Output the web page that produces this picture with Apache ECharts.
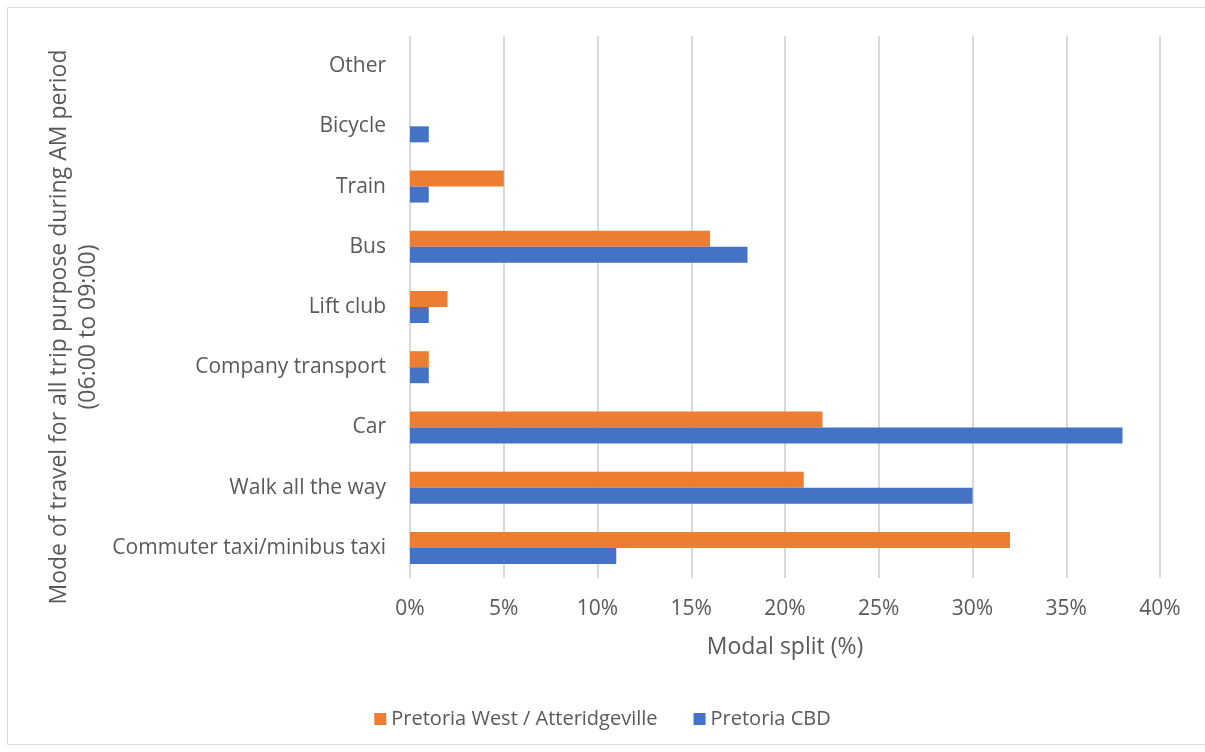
<!DOCTYPE html>
<html><head><meta charset="utf-8">
<script src="https://cdn.jsdelivr.net/npm/echarts@6/dist/echarts.min.js"></script>
<style>html,body{margin:0;padding:0;background:#fff}#c{width:1205px;height:752px}</style>
</head><body><div id="c"></div>
<script>
const categories = ['Commuter taxi/minibus taxi','Walk all the way','Car','Company transport','Lift club','Bus','Train','Bicycle','Other'];
const westValues = [32, 21, 22, 1, 2, 16, 5, 0, 0];
const cbdValues = [11, 30, 38, 1, 1, 18, 1, 1, 0];
const seriesNames = ['Pretoria West / Atteridgeville', 'Pretoria CBD'];
const xTicks = [0, 5, 10, 15, 20, 25, 30, 35, 40];
const yTitle = 'Mode of travel for all trip purpose during AM period\n(06:00 to 09:00)';
const xTitle = 'Modal split (%)';

const font = '"Open Sans", sans-serif';
const txt = '#595959';
const chart = echarts.init(document.getElementById('c'));
chart.setOption({
  animation: false,
  backgroundColor: '#fff',
  graphic: [
    {type:'rect', shape:{x:7.5,y:7.5,width:1205,height:737}, style:{fill:'none', stroke:'#d9d9d9', lineWidth:1}},
    {type:'text', x: 74, y: 327, rotation: Math.PI/2,
     style:{text: yTitle, fill: txt, font: '23px "Open Sans", sans-serif', align:'center', verticalAlign:'middle', lineHeight: 29}}
  ],
  grid: {left: 410, right: 45, top: 36, bottom: 174, containLabel: false},
  legend: {
    bottom: 18, left: 'center', itemWidth: 12, itemHeight: 12, itemGap: 36,
    icon: 'rect',
    textStyle: {color: txt, fontSize: 20, fontFamily: font},
    data: seriesNames
  },
  xAxis: {
    type: 'value', min: xTicks[0], max: xTicks[xTicks.length-1], interval: 5,
    axisLine: {show: false}, axisTick: {show: false},
    splitLine: {lineStyle: {color: '#d9d9d9', width: 2}},
    axisLabel: {color: txt, fontSize: 21, fontFamily: font, margin: 21, formatter: v => v + '%'},
    name: xTitle, nameLocation: 'middle', nameGap: 58,
    nameTextStyle: {color: txt, fontSize: 23, fontFamily: font}
  },
  yAxis: {
    type: 'category', data: categories,
    axisLine: {show: false}, axisTick: {show: false},
    axisLabel: {color: txt, fontSize: 21, fontFamily: font, margin: 24}
  },
  series: [
    {name: seriesNames[0], type: 'bar', data: westValues, itemStyle: {color: '#ED7D31'}, barWidth: 16, barGap: '0%'},
    {name: seriesNames[1], type: 'bar', data: cbdValues, itemStyle: {color: '#4472C4'}, barWidth: 16, barGap: '0%'}
  ]
});
</script></body></html>
